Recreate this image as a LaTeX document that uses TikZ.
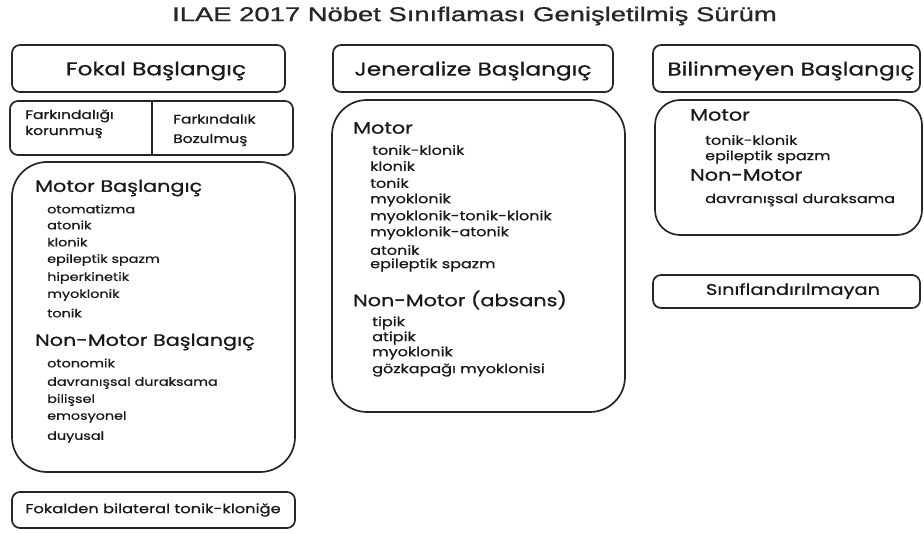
\documentclass[tikz,border=0pt]{standalone}
\usepackage{graphicx}
\usepackage{fontspec}
\setmainfont{Poppins}[FakeBold=0.6]
\newfontfamily\titlefont{Liberation Sans}[FakeBold=0.8]
\newcommand{\sx}[2][1.25]{\scalebox{#1}[1]{#2}}
\begin{document}
\begin{tikzpicture}[x=1pt,y=-1pt,
  box/.style={draw=black!85,line width=1.7pt,rounded corners=8pt},
  bigbox/.style={draw=black!85,line width=1.7pt,rounded corners=35pt},
  head/.style={font=\fontsize{18.6}{20}\selectfont,text=black!90,inner sep=0pt},
  sub/.style={font=\fontsize{16.6}{18}\selectfont,text=black!90,anchor=west,inner sep=0pt},
  iteml/.style={font=\fontsize{11.5}{13}\selectfont,text=black!90,anchor=west,inner sep=0pt},
  item/.style={font=\fontsize{12.8}{14}\selectfont,text=black!90,anchor=west,inner sep=0pt},
  small/.style={font=\fontsize{12.4}{14}\selectfont,text=black!90,anchor=west,inner sep=0pt}]
\useasboundingbox (0,0) rectangle (924,534);
\fill[white] (0,0) rectangle (924,534);
\node[font=\titlefont\fontsize{20}{22}\selectfont,text=black!85,inner sep=0pt] (title) at (474.5,16) {\sx[1.37]{ILAE 2017 Nöbet Sınıflaması Genişletilmiş Sürüm}};
% left
\draw[box] (12,45) rectangle (285,92);
\node[head] (fokal) at (156,71) {\sx{Fokal Başlangıç}};
\draw[box] (10,101) rectangle (293,155);
\draw[line width=1.7pt,black!85] (152,101) -- (152,155);
\node[small] (fk1) at (25,116) {\sx{Farkındalığı}};
\node[small] (fk2) at (25,132) {\sx{korunmuş}};
\node[small] (fb1) at (173,119) {\sx{Farkındalık}};
\node[small] (fb2) at (173,140) {\sx{Bozulmuş}};
\draw[bigbox] (12,162) rectangle (295,472);
\node[sub] (mb) at (35,188) {\sx{Motor Başlangıç}};
\node[iteml] (l1) at (47,209) {\sx{otomatizma}};
\node[iteml] (l2) at (47,225) {\sx{atonik}};
\node[iteml] (l3) at (47,242) {\sx{klonik}};
\node[iteml] (l4) at (47,260) {\sx{epileptik spazm}};
\node[iteml] (l5) at (47,278) {\sx{hiperkinetik}};
\node[iteml] (l6) at (47,295) {\sx{myoklonik}};
\node[iteml] (l7) at (47,313) {\sx{tonik}};
\node[sub] (nmb) at (35,342) {\sx{Non-Motor Başlangıç}};
\node[iteml] (l8) at (47,363) {\sx{otonomik}};
\node[iteml] (l9) at (47,383) {\sx{davranışsal duraksama}};
\node[iteml] (l10) at (47,400) {\sx{bilişsel}};
\node[iteml] (l11) at (47,417) {\sx{emosyonel}};
\node[iteml] (l12) at (47,437) {\sx{duyusal}};
\draw[box] (12,492) rectangle (295,528);
\node[head,font=\fontsize{13}{15}\selectfont] (fbt) at (153,510) {\sx{Fokalden bilateral tonik-kloniğe}};
% middle
\draw[box] (333,45) rectangle (613,92);
\node[head] (gen) at (473,71) {\sx{Jeneralize Başlangıç}};
\draw[bigbox] (332,100) rectangle (625,412);
\node[sub] (gm) at (353,128) {\sx{Motor}};
\node[item] (g1) at (372,150) {\sx{tonik-klonik}};
\node[item] (g2) at (370,166) {\sx{klonik}};
\node[item] (g3) at (370,183) {\sx{tonik}};
\node[item] (g4) at (370,200) {\sx{myoklonik}};
\node[item] (g5) at (370,217) {\sx{myoklonik-tonik-klonik}};
\node[item] (g6) at (370,233) {\sx{myoklonik-atonik}};
\node[item] (g7) at (370,250) {\sx{atonik}};
\node[item] (g8) at (370,265) {\sx{epileptik spazm}};
\node[sub] (gnm) at (353,300) {\sx{Non-Motor (absans)}};
\node[item] (g9) at (372,323) {\sx{tipik}};
\node[item] (g10) at (372,338) {\sx{atipik}};
\node[item] (g11) at (372,353) {\sx{myoklonik}};
\node[item] (g12) at (372,370) {\sx{gözkapağı myoklonisi}};
% right
\draw[box] (653,45) rectangle (920,92);
\node[head] (bil) at (791,71) {\sx{Bilinmeyen Başlangıç}};
\draw[draw=black!85,line width=1.7pt,rounded corners=25pt] (655,100) rectangle (922,235);
\node[sub] (bm) at (690,115) {\sx{Motor}};
\node[item] (b1) at (705,140) {\sx{tonik-klonik}};
\node[item] (b2) at (705,157) {\sx{epileptik spazm}};
\node[sub] (bnm) at (690,175) {\sx{Non-Motor}};
\node[item] (b3) at (705,200) {\sx{davranışsal duraksama}};
\draw[box] (653,275) rectangle (920,308);
\node[head,font=\fontsize{15.5}{17}\selectfont] (sin) at (793,291) {\sx{Sınıflandırılmayan}};
\end{tikzpicture}
\end{document}
